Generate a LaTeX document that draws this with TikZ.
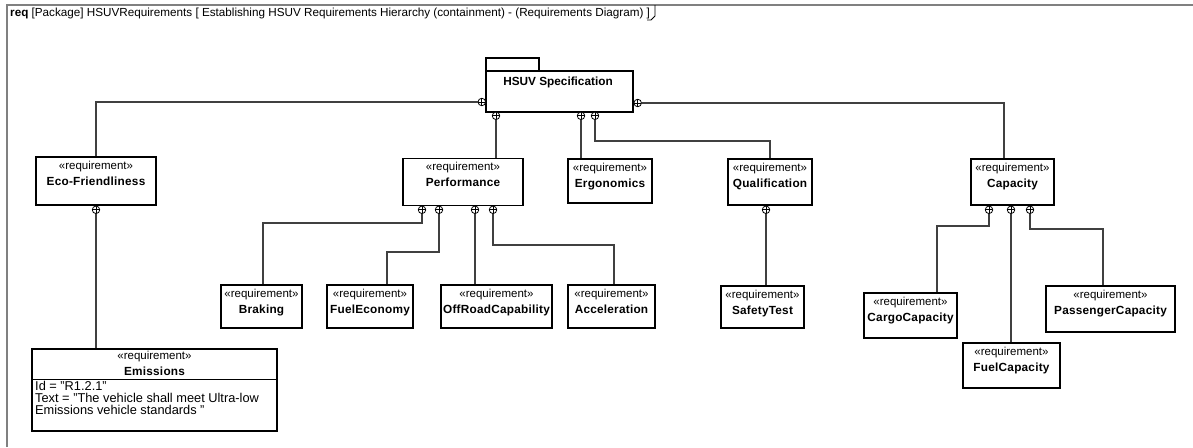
\documentclass[tikz,border=0pt]{standalone}
\usepackage{fontspec}
\setmainfont{Liberation Sans}
\usetikzlibrary{calc}
\tikzset{
  reqbox/.style={draw=black, line width=1.1pt, rectangle, inner sep=0pt, fill=white},
  lbl/.style={anchor=north, inner sep=0pt, align=center, font=\fontsize{11.5}{16}\selectfont, label distance=-4.5pt},
  conn/.style={draw=black!75, line width=1.1pt},
  cplus/.style={circle, draw=black, line width=0.8pt, fill=white, minimum size=7.5pt, inner sep=0pt,
    path picture={\draw[line width=0.8pt] (path picture bounding box.north) -- (path picture bounding box.south)
      (path picture bounding box.west) -- (path picture bounding box.east);}},
  frameline/.style={draw=black!50, line width=2pt},
}
\newcommand{\reqtxt}[1]{«requirement»\\{\fontsize{11.8}{16}\selectfont\bfseries\addfontfeatures{LetterSpace=2}#1}}
\begin{document}
\begin{tikzpicture}[x=1pt,y=-1pt]
\useasboundingbox (0,0) rectangle (1193,447);
% frame
\draw[frameline] (7,447) -- (7,5) -- (1193,5);
\coordinate (tabA) at (655,5);
\coordinate (tabB) at (655,16);
\coordinate (tabC) at (651,20);
\coordinate (tabD) at (647,20);
\draw[line width=0.9pt] (tabA) -- (tabB) -- (tabC) -- (tabD);
\node[anchor=west, inner sep=0pt, font=\fontsize{11.7}{14}\selectfont] (hdr) at (10,13.5)
  {\textbf{req} [Package] HSUVRequirements [ Establishing HSUV Requirements Hierarchy (containment) - (Requirements Diagram) ]};

% HSUV Specification
\node[reqbox, minimum width=53pt, minimum height=13pt] (tab) at (512.5,64.5) {};
\node[reqbox, minimum width=147pt, minimum height=41pt] (hsuv) at (559.5,91.5) {};
\node[font=\fontsize{11.8}{14}\selectfont\bfseries, inner sep=0pt] (hsuvt) at (558,82) {HSUV Specification};

% requirement boxes (centre, size)
\node[reqbox, minimum width=120pt, minimum height=48pt, label={[lbl]north:\reqtxt{Eco-Friendliness}}] (eco) at (96,181) {};
\node[reqbox, minimum width=120pt, minimum height=47pt, label={[lbl]north:\reqtxt{Performance}}] (perf) at (463,182) {};
\node[reqbox, minimum width=84pt, minimum height=44pt, label={[lbl]north:\reqtxt{Ergonomics}}] (ergo) at (610,181) {};
\node[reqbox, minimum width=84pt, minimum height=46pt, label={[lbl]north:\reqtxt{Qualification}}] (qual) at (770,182) {};
\node[reqbox, minimum width=83pt, minimum height=46pt, label={[lbl]north:\reqtxt{Capacity}}] (cap) at (1012.5,182) {};

\node[reqbox, minimum width=81pt, minimum height=43pt, label={[lbl]north:\reqtxt{Braking}}] (brak) at (261.5,306.5) {};
\node[reqbox, minimum width=86pt, minimum height=43pt, label={[lbl]north:\reqtxt{FuelEconomy}}] (fecon) at (370,306.5) {};
\node[reqbox, minimum width=111pt, minimum height=43pt, label={[lbl]north:\reqtxt{OffRoadCapability}}] (offr) at (496.5,306.5) {};
\node[reqbox, minimum width=87pt, minimum height=43pt, label={[lbl]north:\reqtxt{Acceleration}}] (accel) at (611.5,306.5) {};
\node[reqbox, minimum width=83pt, minimum height=42pt, label={[lbl]north:\reqtxt{SafetyTest}}] (safe) at (762.5,307) {};
\node[reqbox, minimum width=93pt, minimum height=45pt, label={[lbl]north:\reqtxt{CargoCapacity}}] (cargo) at (910.5,315.5) {};
\node[reqbox, minimum width=97pt, minimum height=45pt, label={[lbl]north:\reqtxt{FuelCapacity}}] (fcap) at (1011.5,365.5) {};
\node[reqbox, minimum width=129pt, minimum height=46pt, label={[lbl]north:\reqtxt{PassengerCapacity}}] (pass) at (1110.5,309) {};

% Emissions (with compartment)
\node[reqbox, minimum width=245pt, minimum height=82pt, label={[lbl, label distance=-3pt]north:\reqtxt{Emissions}}] (emis) at (154.5,390) {};
\coordinate (emsepL) at (32,379.5);
\coordinate (emsepR) at (277,379.5);
\draw[line width=1.1pt] (emsepL) -- (emsepR);
\node[anchor=north west, inner sep=0pt, align=left, font=\fontsize{12.8}{12}\selectfont] (emtext) at (35,381.5)
  {Id = "R1.2.1"\\Text = "The vehicle shall meet Ultra-low\\Emissions vehicle standards "};

% connectors
\node[cplus] (h1) at (481.8,102) {};
\node[cplus] (h2) at (637.7,103) {};
\node[cplus] (h3) at (496,115.8) {};
\node[cplus] (h4) at (581,115.8) {};
\node[cplus] (h5) at (595,115.8) {};

\draw[conn] (h1.west) -| (eco.north);
\draw[conn] (h3.south) -- (h3.south |- perf.north);
\draw[conn] (h4.south) -- (h4.south |- ergo.north);
\coordinate (qbend) at (595,141);
\draw[conn] (h5.south) -- (qbend) -| (qual.north);
\draw[conn] (h2.east) -| ([xshift=-8.5pt]cap.north);

\node[cplus] (e1) at (96,209.8) {};
\draw[conn] (e1.south) -- (e1.south |- emis.north);

\node[cplus] (p1) at (422,209.8) {};
\node[cplus] (p2) at (439,209.8) {};
\node[cplus] (p3) at (475,209.8) {};
\node[cplus] (p4) at (493,209.8) {};
\coordinate (b1) at (422,223);
\coordinate (b2) at (439,252);
\coordinate (b4) at (493,245);
\draw[conn] (p1.south) -- (b1) -| ([xshift=1.5pt]brak.north);
\draw[conn] (p2.south) -- (b2) -| ([xshift=17pt]fecon.north);
\draw[conn] (p3.south) -- (p3.south |- offr.north);
\draw[conn] (p4.south) -- (b4) -| ([xshift=2.5pt]accel.north);

\node[cplus] (q1) at (766,209.8) {};
\draw[conn] (q1.south) -- (q1.south |- safe.north);

\node[cplus] (k1) at (989,209.8) {};
\node[cplus] (k2) at (1011,209.8) {};
\node[cplus] (k3) at (1030,209.8) {};
\coordinate (kb1) at (989,226);
\coordinate (kb3) at (1030,229);
\draw[conn] (k1.south) -- (kb1) -| ([xshift=26.5pt]cargo.north);
\draw[conn] (k2.south) -- (k2.south |- fcap.north);
\draw[conn] (k3.south) -- (kb3) -| ([xshift=-7.5pt]pass.north);
\end{tikzpicture}
\end{document}
